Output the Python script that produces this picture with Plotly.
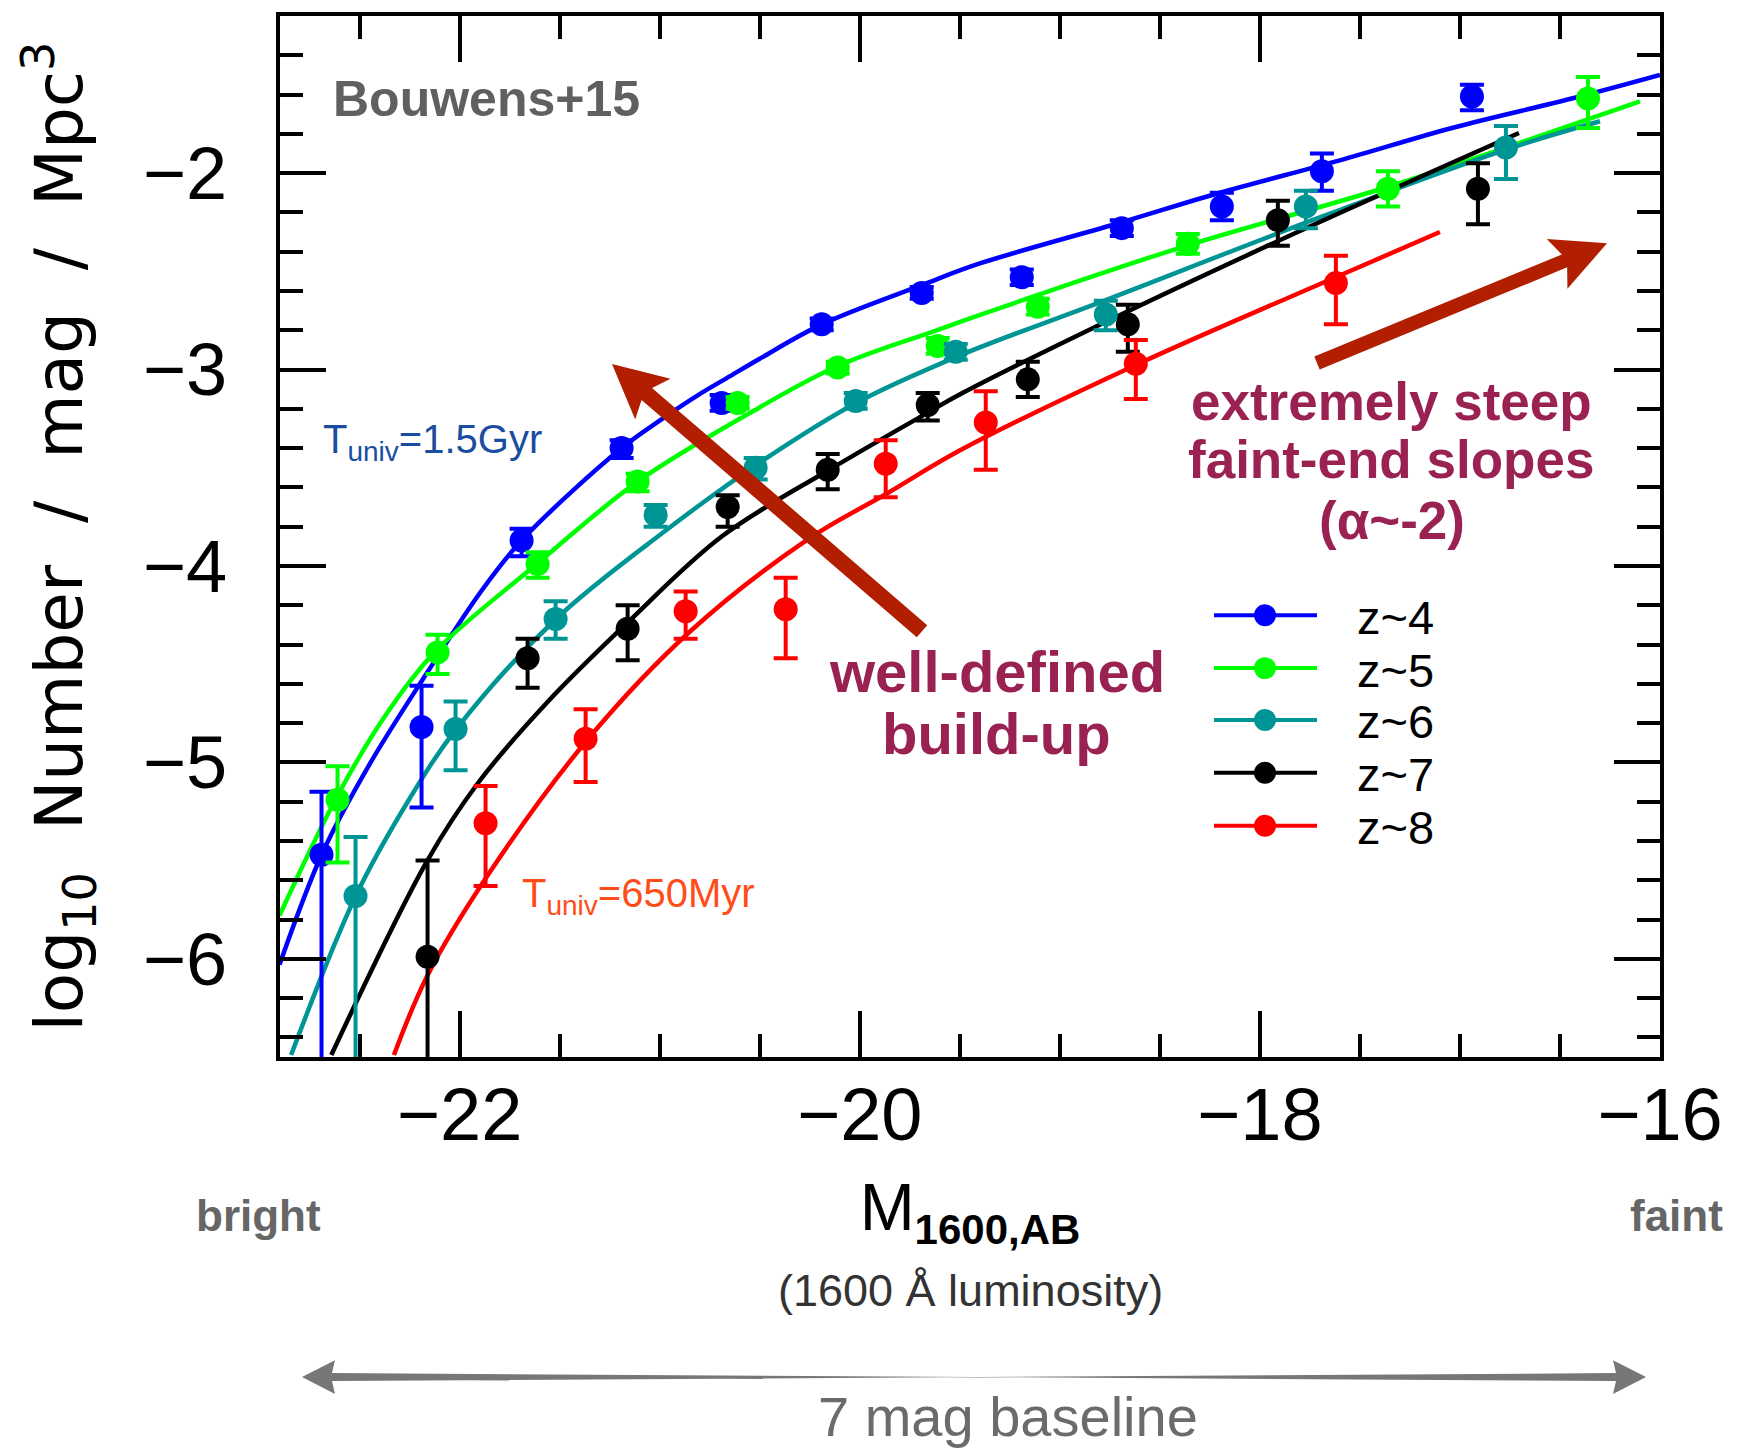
import math
import plotly.graph_objects as go

# ---------------- data ----------------
SERIES = ["z~4", "z~5", "z~6", "z~7", "z~8"]
COLORS = ["#0000ff", "#00ff00", "#009595", "#000000", "#ff0000"]

# binned luminosity function points (M_1600, log10 phi) with asymmetric errors in dex
M_Z4 = [-22.69, -22.19, -21.69, -21.19, -20.69, -20.19, -19.69, -19.19, -18.69, -18.19, -17.69, -16.94]
LOGPHI_Z4 = [-5.47, -4.82, -3.87, -3.40, -3.17, -2.77, -2.61, -2.53, -2.28, -2.17, -1.99, -1.61]
ERRUP_Z4 = [0.32, 0.21, 0.06, 0.04, 0.04, 0.03, 0.03, 0.04, 0.04, 0.07, 0.09, 0.06]
ERRLO_Z4 = [1.50, 0.41, 0.08, 0.05, 0.04, 0.03, 0.03, 0.04, 0.04, 0.07, 0.10, 0.07]

M_Z5 = [-22.61, -22.11, -21.61, -21.11, -20.61, -20.11, -19.61, -19.11, -18.36, -17.36, -16.36]
LOGPHI_Z5 = [-5.19, -4.44, -3.99, -3.57, -3.17, -2.99, -2.88, -2.68, -2.36, -2.08, -1.62]
ERRUP_Z5 = [0.17, 0.09, 0.06, 0.04, 0.03, 0.03, 0.04, 0.04, 0.05, 0.09, 0.11]
ERRLO_Z5 = [0.32, 0.11, 0.07, 0.05, 0.03, 0.03, 0.04, 0.04, 0.05, 0.09, 0.15]

M_Z6 = [-22.52, -22.02, -21.52, -21.02, -20.52, -20.02, -19.52, -18.77, -17.77, -16.77]
LOGPHI_Z6 = [-5.68, -4.83, -4.27, -3.74, -3.50, -3.16, -2.91, -2.72, -2.17, -1.87]
ERRUP_Z6 = [0.30, 0.14, 0.09, 0.05, 0.05, 0.04, 0.04, 0.07, 0.08, 0.11]
ERRLO_Z6 = [1.50, 0.21, 0.10, 0.06, 0.06, 0.04, 0.04, 0.08, 0.11, 0.16]

M_Z7 = [-22.16, -21.66, -21.16, -20.66, -20.16, -19.66, -19.16, -18.66, -17.91, -16.91]
LOGPHI_Z7 = [-5.99, -4.47, -4.32, -3.70, -3.51, -3.18, -3.05, -2.77, -2.24, -2.08]
ERRUP_Z7 = [0.49, 0.10, 0.12, 0.06, 0.08, 0.06, 0.09, 0.10, 0.10, 0.13]
ERRLO_Z7 = [1.50, 0.15, 0.16, 0.10, 0.10, 0.08, 0.09, 0.14, 0.13, 0.18]

M_Z8 = [-21.87, -21.37, -20.87, -20.37, -19.87, -19.37, -18.62, -17.62]
LOGPHI_Z8 = [-5.31, -4.88, -4.23, -4.22, -3.48, -3.27, -2.97, -2.56]
ERRUP_Z8 = [0.19, 0.15, 0.10, 0.16, 0.12, 0.16, 0.12, 0.14]
ERRLO_Z8 = [0.32, 0.22, 0.14, 0.25, 0.17, 0.24, 0.18, 0.21]

# fitted curves
FIT_M_Z4 = [-22.90, -22.685, -22.45, -22.16, -21.90, -21.69, -21.19, -21.00, -20.80, -20.65,
            -20.50, -20.19, -19.69, -19.40, -18.69, -18.20, -17.60, -17.04, -16.42, -16.00]
FIT_LOGPHI_Z4 = [-6.03, -5.46, -5.01, -4.54, -4.14, -3.87, -3.40, -3.26, -3.125, -3.035,
                 -2.945, -2.77, -2.57, -2.46, -2.25, -2.10, -1.935, -1.77, -1.615, -1.50]

FIT_M_Z5 = [-22.90, -22.618, -22.37, -22.116, -21.614, -21.112, -20.554, -20.118, -19.616,
            -19.11, -18.38, -17.353, -16.77, -16.10]
FIT_LOGPHI_Z5 = [-5.78, -5.185, -4.76, -4.43, -3.99, -3.572, -3.224, -2.986, -2.80,
                 -2.62, -2.374, -2.068, -1.87, -1.635]

FIT_M_Z6 = [-22.842, -22.518, -22.25, -22.016, -21.518, -20.978, -20.509, -20.018, -19.504,
            -18.78, -17.777, -16.77, -16.30]
FIT_LOGPHI_Z6 = [-6.49, -5.678, -5.185, -4.83, -4.27, -3.826, -3.48, -3.17, -2.93,
                 -2.65, -2.255, -1.88, -1.736]

FIT_M_Z7 = [-22.641, -22.161, -21.904, -21.558, -21.157, -20.69, -20.152, -19.661, -19.496,
            -18.826, -17.933, -16.705]
FIT_LOGPHI_Z7 = [-6.49, -5.50, -5.10, -4.69, -4.285, -3.85, -3.51, -3.22, -3.125,
                 -2.785, -2.357, -1.796]

FIT_M_Z8 = [-22.328, -22.161, -21.86, -21.357, -20.844, -20.252, -19.862, -19.496, -18.603,
            -17.598, -17.10]
FIT_LOGPHI_Z8 = [-6.49, -6.086, -5.576, -4.88, -4.33, -3.86, -3.63, -3.41, -2.969,
                 -2.52, -2.30]

X_TICKS = [-22, -20, -18, -16]
Y_TICKS = [-6, -5, -4, -3, -2]
X_RANGE = [-22.8975, -16.0]
Y_RANGE = [-6.5, -1.2]

POINTS = [(M_Z4, LOGPHI_Z4, ERRUP_Z4, ERRLO_Z4), (M_Z5, LOGPHI_Z5, ERRUP_Z5, ERRLO_Z5),
          (M_Z6, LOGPHI_Z6, ERRUP_Z6, ERRLO_Z6), (M_Z7, LOGPHI_Z7, ERRUP_Z7, ERRLO_Z7),
          (M_Z8, LOGPHI_Z8, ERRUP_Z8, ERRLO_Z8)]
FITS = [(FIT_M_Z4, FIT_LOGPHI_Z4), (FIT_M_Z5, FIT_LOGPHI_Z5), (FIT_M_Z6, FIT_LOGPHI_Z6),
        (FIT_M_Z7, FIT_LOGPHI_Z7), (FIT_M_Z8, FIT_LOGPHI_Z8)]

# ---------------- geometry ----------------
W, H = 1737, 1449
PL, PR, PT, PB = 280, 1660, 13, 1057   # plot area in page pixels
FONT = "Liberation Sans, Arial, sans-serif"
MAGENTA = "#9a2252"
ARROW_RED = "#b21e00"


def to_paper(x, y):
    return (x - PL) / (PR - PL), (PB - y) / (PB - PT)


def arrow_path(tail, tip, shaft, head_w, head_len, notch, double=False):
    tx, ty = tail
    hx, hy = tip
    dx, dy = hx - tx, hy - ty
    d = math.hypot(dx, dy)
    ux, uy = dx / d, dy / d
    nx, ny = -uy, ux

    def head(px, py, sx, sy):
        bx, by = px - sx * head_len, py - sy * head_len
        jx, jy = px - sx * (head_len - notch), py - sy * (head_len - notch)
        return [(jx + nx * shaft / 2, jy + ny * shaft / 2), (bx + nx * head_w, by + ny * head_w),
                (px, py), (bx - nx * head_w, by - ny * head_w), (jx - nx * shaft / 2, jy - ny * shaft / 2)]

    front = head(hx, hy, ux, uy)
    if double:
        back = head(tx, ty, -ux, -uy)
        pts = front + back
    else:
        pts = front + [(tx - nx * shaft / 2, ty - ny * shaft / 2), (tx + nx * shaft / 2, ty + ny * shaft / 2)]
    pp = [to_paper(x, y) for x, y in pts]
    return "M " + " L ".join(f"{x:.5f},{y:.5f}" for x, y in pp) + " Z"


def ann(text, x, y, size, color, bold=False, xanchor="center", family=FONT):
    xp, yp = to_paper(x, y)
    return dict(text=f"<b>{text}</b>" if bold else text, x=xp, y=yp, xref="paper", yref="paper",
                xanchor=xanchor, yanchor="middle", showarrow=False,
                font=dict(size=size, color=color, family=family))


fig = go.Figure()

# fitted curves
for (fm, fv), c, name in zip(FITS, COLORS, SERIES):
    fig.add_trace(go.Scatter(x=fm, y=fv, mode="lines", line=dict(color=c, width=4.5, shape="spline", smoothing=1.0),
                             showlegend=False, hoverinfo="skip", name=name + " fit"))

# data points
for (m, v, up, lo), c, name in zip(POINTS, COLORS, SERIES):
    fig.add_trace(go.Scatter(x=m, y=v, mode="markers", name=name, showlegend=False,
                             marker=dict(color=c, size=24, line=dict(width=0)),
                             error_y=dict(type="data", symmetric=False, array=up, arrayminus=lo,
                                          color=c, thickness=4, width=12)))

shapes = []
# arrows
shapes.append(dict(type="path", xref="paper", yref="paper", fillcolor=ARROW_RED, line=dict(width=0),
                   path=arrow_path((922, 630), (612, 362), 16, 27, 54, 8)))
shapes.append(dict(type="path", xref="paper", yref="paper", fillcolor=ARROW_RED, line=dict(width=0),
                   path=arrow_path((1317, 361), (1607, 241), 14, 27, 54, 8)))
shapes.append(dict(type="path", xref="paper", yref="paper", fillcolor="#777777", line=dict(width=0),
                   path=arrow_path((302, 1378), (1646, 1378), 8, 17, 33, 3, double=True)))

# hand-built legend
LEG_ROWS = [614, 667, 719, 772, 825]
annotations = []
for name, c, yrow in zip(SERIES, COLORS, LEG_ROWS):
    x0, y0 = to_paper(1214, yrow)
    x1, _ = to_paper(1317, yrow)
    shapes.append(dict(type="line", xref="paper", yref="paper", x0=x0, x1=x1, y0=y0, y1=y0,
                       line=dict(color=c, width=4)))
    cx0, cy0 = to_paper(1265 - 11, yrow + 11)
    cx1, cy1 = to_paper(1265 + 11, yrow - 11)
    shapes.append(dict(type="circle", xref="paper", yref="paper", x0=cx0, x1=cx1, y0=cy0, y1=cy1,
                       fillcolor=c, line=dict(width=0)))
    annotations.append(ann(name, 1355, yrow + 2, 47, "black", xanchor="left"))

annotations += [
    ann("Bouwens+15", 331, 96, 50, "#606060", bold=True, xanchor="left"),
    ann("T<sub>univ</sub>=1.5Gyr", 321, 440, 40, "#1a4d9f", xanchor="left"),
    ann("T<sub>univ</sub>=650Myr", 520, 896, 40, "#ff4d1a", xanchor="left"),
    ann("well-defined", 997, 670, 58, MAGENTA, bold=True),
    ann("build-up", 996, 733, 58, MAGENTA, bold=True),
    ann("extremely steep", 1391, 400, 53, MAGENTA, bold=True),
    ann("faint-end slopes", 1391, 458, 53, MAGENTA, bold=True),
    ann("(\u03b1~-2)", 1392, 519, 53, MAGENTA, bold=True),
    ann("(1600 \u00c5 luminosity)", 970, 1291, 45, "#333333"),
    ann("bright", 258, 1216, 44, "#666666", bold=True),
    ann("faint", 1676, 1216, 44, "#666666", bold=True),
    ann("7 mag baseline", 1008, 1418, 56, "#6b6b6b"),
]

axis_common = dict(showline=True, linewidth=4, linecolor="black", mirror="allticks",
                   ticks="inside", ticklen=46, tickwidth=4, tickcolor="black",
                   showgrid=False, zeroline=False,
                   tickfont=dict(size=74, color="black", family=FONT))

fig.update_layout(
    width=W, height=H, autosize=False,
    margin=dict(l=PL, r=W - PR, t=PT, b=H - PB, pad=0),
    plot_bgcolor="white", paper_bgcolor="white",
    showlegend=False,
    xaxis=dict(range=X_RANGE, tickmode="array", tickvals=X_TICKS,
               minor=dict(tickmode="linear", tick0=-22, dtick=0.5, ticks="inside", ticklen=23,
                          tickwidth=4, tickcolor="black", showgrid=False),
               ticklabelstandoff=-10,
               title=dict(text='M<sub><span style="font-size:42px"><b>1600,AB</b></span></sub>', standoff=30,
                          font=dict(size=66, color="black", family=FONT)),
               **axis_common),
    yaxis=dict(range=Y_RANGE, tickmode="array", tickvals=Y_TICKS,
               minor=dict(tickmode="linear", tick0=-6, dtick=0.2, ticks="inside", ticklen=23,
                          tickwidth=4, tickcolor="black", showgrid=False),
               ticklabelstandoff=34,
               title=dict(text="log<sub>10</sub>\u00a0\u00a0Number\u00a0\u00a0/\u00a0\u00a0mag\u00a0\u00a0/\u00a0\u00a0Mpc<sup>3</sup>",
                          standoff=40, font=dict(size=66, color="black", family="DejaVu Sans, sans-serif")),
               **axis_common),
    shapes=shapes,
    annotations=annotations,
)

fig.write_html("out.html")
